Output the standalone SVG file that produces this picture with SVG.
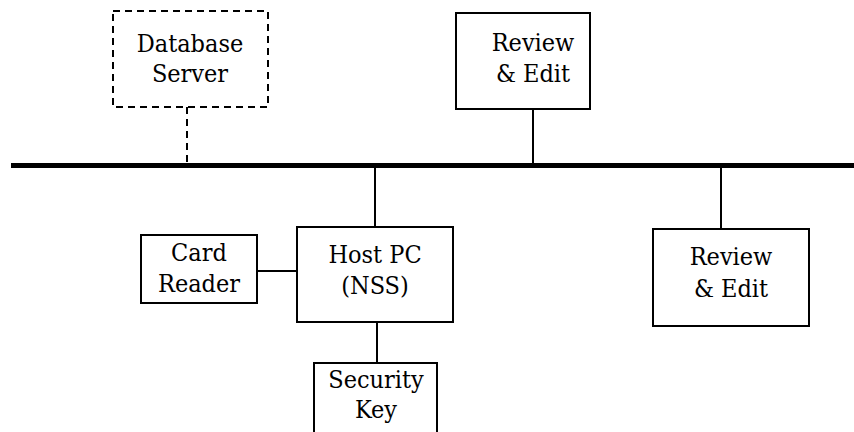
<svg xmlns="http://www.w3.org/2000/svg" width="854" height="432" viewBox="0 0 854 432">
<style>
.box{fill:#fff;stroke:#000;stroke-width:2}
.dash{stroke-dasharray:7,5}
.lbl{font-family:'DejaVu Serif Condensed','DejaVu Serif',serif;font-stretch:condensed;font-size:25px;fill:#000;text-anchor:middle}
.ln{stroke:#000;stroke-width:2;fill:none}
.bus{stroke:#000;stroke-width:5;fill:none}
</style>
<rect width="854" height="432" fill="#fff"/>
<g id="connectors">
<line class="bus" x1="11" y1="165.5" x2="854" y2="165.5"/>
<line class="ln dash" x1="187" y1="107" x2="187" y2="163"/>
<line class="ln" x1="533" y1="109" x2="533" y2="163"/>
<line class="ln" x1="375" y1="168" x2="375" y2="227"/>
<line class="ln" x1="721" y1="168" x2="721" y2="229"/>
<line class="ln" x1="257" y1="271" x2="297" y2="271"/>
<line class="ln" x1="377" y1="322" x2="377" y2="363"/>
</g>
<g id="database-server">
<rect class="box dash" x="113" y="11" width="155" height="96"/>
<text class="lbl" x="190" y="52">Database</text>
<text class="lbl" x="190" y="82">Server</text>
</g>
<g id="review-edit-top">
<rect class="box" x="456" y="13" width="134" height="96"/>
<text class="lbl" x="533" y="51">Review</text>
<text class="lbl" x="533" y="82">&amp; Edit</text>
</g>
<g id="card-reader">
<rect class="box" x="141" y="235" width="116" height="68"/>
<text class="lbl" x="199" y="261">Card</text>
<text class="lbl" x="199" y="292">Reader</text>
</g>
<g id="host-pc">
<rect class="box" x="297" y="227" width="156" height="95"/>
<text class="lbl" x="375" y="263">Host PC</text>
<text class="lbl" x="375" y="294">(NSS)</text>
</g>
<g id="security-key">
<path class="box" d="M314,434 V363 H437 V434"/>
<text class="lbl" x="376" y="388">Security</text>
<text class="lbl" x="376" y="418">Key</text>
</g>
<g id="review-edit-right">
<rect class="box" x="653" y="229" width="156" height="97"/>
<text class="lbl" x="731" y="265">Review</text>
<text class="lbl" x="731" y="297">&amp; Edit</text>
</g>
</svg>
